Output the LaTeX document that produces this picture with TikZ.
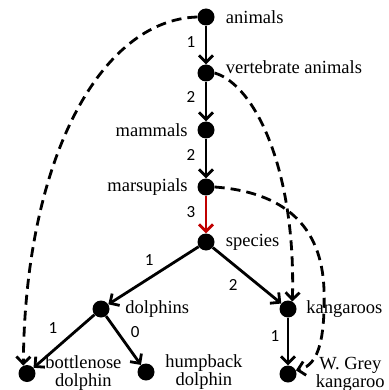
\documentclass[tikz,border=0pt]{standalone}
\usepackage{fontspec}
\setmainfont{Liberation Serif}
\newfontfamily\numfont{Carlito}
\usetikzlibrary{arrows.meta}
\definecolor{darkred}{HTML}{C00000}
\tikzset{
  dot/.style={circle,fill=black,inner sep=0pt,minimum size=17pt},
  every label/.style={inner sep=0pt,font=\fontsize{18.5}{18}\selectfont,align=center},
  elab/.style={inner sep=1pt,font=\numfont\fontsize{17}{17}\selectfont},
  link/.style={->,line width=2.8pt},
  jump/.style={->,line width=2.8pt,dash pattern=on 10pt off 6pt},
}
\begin{document}
\begin{tikzpicture}[x=1pt,y=-1pt,>={Straight Barb[length=7pt,width=14pt]}]
  \useasboundingbox (0,0) rectangle (388,390);
  % taxonomy chain
  \node[dot,label={[label distance=11pt]right:animals}] (animals) at (206,17) {};
  \node[dot,label={[label distance=11pt,yshift=6pt]right:vertebrate animals}] (vertebrate) at (206,73) {};
  \node[dot,label={[label distance=9.5pt]left:mammals}] (mammals) at (206,130) {};
  \node[dot,label={[label distance=9.5pt]left:marsupials}] (marsupials) at (206,187) {};
  \node[dot,label={[label distance=11pt]right:species}] (species) at (206,242) {};
  \node[dot,label={[label distance=15.5pt]right:dolphins}] (dolphins) at (101,309) {};
  \node[dot,label={[label distance=9.5pt]right:kangaroos}] (kangaroos) at (288,309) {};
  \node[dot,label={[label distance=9.5pt]right:bottlenose\\dolphin}] (bottlenose) at (27,373.5) {};
  \node[dot,label={[label distance=10.5pt]right:humpback\\dolphin}] (humpback) at (146,372) {};
  \node[dot,label={[label distance=19pt]right:W. Grey\\kangaroo}] (wgrey) at (288,374) {};
  % solid edges
  \draw[link] (animals) -- node[elab,pos=.42,xshift=-15pt]{1} (vertebrate);
  \draw[link] (vertebrate) -- node[elab,pos=.38,xshift=-15pt]{2} (mammals);
  \draw[link] (mammals) -- node[elab,pos=.41,xshift=-15pt]{2} (marsupials);
  \draw[link,darkred] (marsupials) -- node[elab,black,pos=.44,xshift=-15pt]{3} (species);
  \draw[link] (species) -- node[elab,pos=.46,xshift=-8pt,yshift=12.8pt]{1} (dolphins);
  \draw[link] (species) -- node[elab,pos=.445,xshift=-10pt,yshift=-12.5pt]{2} (kangaroos);
  \draw[link] (dolphins) -- node[elab,pos=.5,xshift=-11pt,yshift=13pt]{1} (bottlenose);
  \draw[link] (dolphins) -- node[elab,pos=.5,xshift=11.7pt,yshift=8.3pt]{0} (humpback);
  \draw[link] (kangaroos) -- node[elab,pos=.385,xshift=-13pt]{1} (wgrey);
  % dashed shortcuts
  \draw[jump] (animals.west) .. controls (100,20) and (25,160) .. (bottlenose.115);
  \draw[jump] (vertebrate.east) .. controls (255,85) and (296,170) .. (kangaroos.60);
  \draw[jump] (marsupials.east) .. controls (283,192) and (322,225) .. (324,290)
    .. controls (325,335) and (320,365) .. (wgrey.25);
\end{tikzpicture}
\end{document}
